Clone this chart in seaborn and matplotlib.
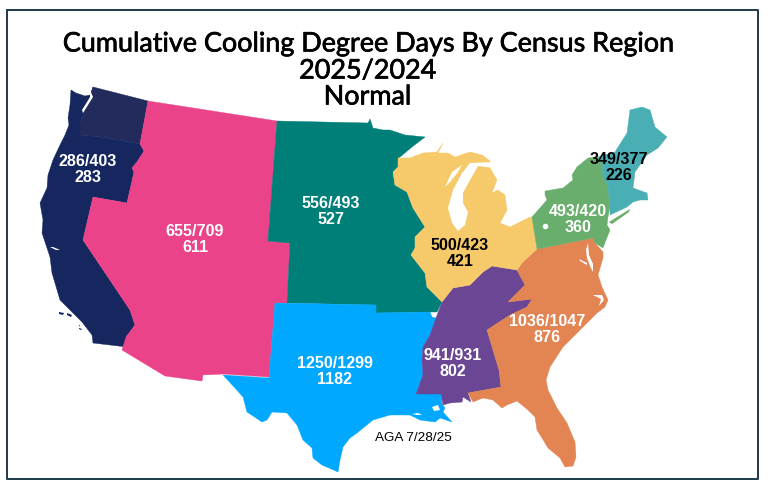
import matplotlib
matplotlib.use("Agg")
import matplotlib.pyplot as plt
import matplotlib.patheffects as pe
import seaborn as sns

sns.set_theme(style="white")

TITLE_LINES = ["Cumulative Cooling Degree Days By Census Region", "2025/2024", "Normal"]
TITLE_Y = [44, 71, 97]

regions = ["Inland Washington", "Pacific", "Mountain", "West North Central", "West South Central",
           "East South Central", "South Atlantic", "East North Central", "Mid Atlantic", "New England"]
colors = ["#222b5c", "#16265f", "#ea4389", "#007f79", "#00a8ff",
          "#6b4694", "#e28553", "#f6c96a", "#69ae6d", "#4aafb5"]

# region outlines (image pixels)
washington = [(93,87),(148,101),(140,144),(117,140),(102,137),(80,135),(80,122),(84,113),(90,100)]
pacific = [(71,90),(76,93),(85,96),(90,95),(93,87),(90,100),(84,113),(80,122),(80,135),(102,137),
           (117,140),(140,144),(144,151),(137,162),(132,168),(134,172),(127,203),(93,197),(83,240),(130,310),
           (135,325),(126,337),(127,347),(93,343),(92,335),(82,322),(73,313),(60,300),(52,273),(50,257),
           (42,233),(43,220),(40,203),(47,188),(48,175),(53,160),(60,145),(65,135),(69,125),(68,118),
           (70,105)]
mountain = [(148,101),(277,121),(268,241),(290,243),(287,303),(275,303),(269,377),(223,374),(203,375),(202,381),
            (165,376),(122,350),(126,337),(135,325),(130,310),(83,240),(93,197),(127,203),(134,172),(132,168),
            (137,162),(144,151),(140,144)]
west_north_central = [(277,121),(368,123),(370,119),(373,128),(383,130),(390,130),(405,135),(425,137),(412,147),(400,157),
                      (398,158),(398,167),(393,172),(395,185),(407,192),(413,208),(425,227),(415,237),(415,248),(411,255),
                      (425,273),(427,287),(442,302),(437,312),(430,312),(376,313),(376,305),(287,303),(290,243),(268,241)]
west_south_central = [(275,303),(376,305),(376,313),(430,312),(432,317),(436,318),(430,335),(423,347),(422,360),(423,375),
                      (416,394),(441,394),(442,404),(445,408),(443,412),(452,422),(440,418),(435,422),(420,420),(410,415),
                      (390,415),(373,420),(357,433),(350,438),(343,447),(340,460),(338,472),(322,465),(313,458),(312,448),
                      (303,440),(297,425),(287,413),(272,412),(267,420),(262,422),(247,412),(243,397),(235,388),(223,375),
                      (269,378)]
east_south_central = [(492,266),(517,270),(525,285),(508,302),(532,299),(527,307),(510,315),(487,330),(499,370),(501,387),
                      (468,393),(471,402),(463,397),(462,402),(450,403),(443,405),(441,394),(416,394),(423,375),(422,360),
                      (423,347),(430,335),(436,318),(442,302),(453,288),(470,285),(483,272)]
south_atlantic = [(537,249),(593,238),(595,243),(603,252),(603,258),(598,275),(602,287),(608,300),(605,307),(597,313),
                  (587,323),(577,333),(563,347),(550,367),(546,380),(548,390),(557,408),(567,423),(575,442),(576,457),
                  (573,466),(565,467),(560,458),(548,448),(542,438),(537,430),(535,417),(528,410),(517,401),(507,405),
                  (502,408),(493,400),(483,398),(473,402),(468,393),(501,387),(499,370),(487,330),(510,315),(527,307),
                  (532,299),(508,302),(525,285),(517,270),(522,263)]
east_north_central = [(398,158),(410,158),(423,153),(437,152),(443,143),(438,153),(448,153),(455,157),(470,152),(482,155),
                      (490,161),(492,165),(490,168),(497,180),(492,193),(498,190),(505,195),(507,210),(500,223),(510,227),
                      (530,217),(532,217),(537,249),(522,263),(517,270),(492,266),(483,272),(470,285),(453,288),(442,302),
                      (427,287),(425,273),(411,255),(415,248),(415,237),(425,227),(413,208),(407,192),(395,185),(393,172),
                      (398,167)]
mid_atlantic = [(532,217),(547,200),(545,195),(545,191),(563,188),(573,180),(572,175),(577,167),(588,158),(598,157),
                (602,163),(603,175),(608,187),(610,207),(608,217),(607,225),(610,230),(606,240),(603,248),(595,243),
                (593,238),(537,249)]
new_england = [(598,157),(615,152),(627,133),(630,110),(642,107),(650,110),(655,127),(667,137),(658,148),(647,155),
               (635,172),(633,188),(647,193),(648,200),(640,200),(633,202),(627,207),(610,215),(610,207),(608,187),
               (603,175),(602,163)]
outlines = [washington, pacific, mountain, west_north_central, west_south_central,
            east_south_central, south_atlantic, east_north_central, mid_atlantic, new_england]

# small extra shapes
long_island = [(609,222),(630,209),(629,212),(612,224)]
channel_islands = [[(59,312),(64,313),(63,315),(59,314)], [(67,313),(72,315),(71,317),(67,315)],
                   [(79,328),(82,329),(81,330),(79,329)], [(79,325),(80,325),(80,327)]]
lake_michigan = [(458,231),(452,223),(448,208),(453,190),(462,173),(470,163),(492,162),(494,168),(478,166),(470,180),
                 (463,193),(463,203),(468,212),(465,225)]
white_bits = [[(90,90),(93,97),(88,105),(83,113),(82,110),(87,102),(90,97)],   # Puget Sound
              [(445,187),(452,172),(462,165),(458,172),(450,182)],             # Green Bay
              [(588,243),(589,255),(593,264),(593,272),(590,266),(587,258),(586,250)],  # Chesapeake
              [(579,259),(587,263),(587,265),(580,261)],
              [(593,295),(602,295),(604,300),(599,306),(601,299)],             # Pamlico
              [(50,247),(56,250),(60,250),(53,247)],
              [(110,333),(112,337),(113,339),(111,335)],
              [(432,407),(438,405),(440,410),(434,411)],                       # Pontchartrain
              [(412,414),(418,413),(422,415),(417,415)]]

label_x = [88, 195, 331, 335, 453, 547, 460, 578, 619]
label_top = ["286/403", "655/709", "556/493", "1250/1299", "941/931", "1036/1047", "500/423", "493/420", "349/377"]
label_bottom = ["283", "611", "527", "1182", "802", "876", "421", "360", "226"]
label_y = [162, 232, 203, 363, 355, 322, 245, 211, 159]
label_color = ["white", "white", "white", "white", "white", "white", "black", "white", "black"]

palette = sns.color_palette(colors)

fig = plt.figure(figsize=(7.72, 4.92), dpi=100)
ax = fig.add_axes([0, 0, 1, 1])
ax.set_xlim(0, 772)
ax.set_ylim(492, 0)
ax.axis("off")

for name, outline, col in zip(regions, outlines, palette):
    xs, ys = zip(*outline)
    ax.fill(xs, ys, color=col, lw=0.3, label=name)

xs, ys = zip(*long_island)
ax.fill(xs, ys, color=palette[8], lw=0)
for isl in channel_islands:
    xs, ys = zip(*isl)
    ax.fill(xs, ys, color=palette[1], lw=0)
xs, ys = zip(*lake_michigan)
ax.fill(xs, ys, color="white", lw=0)
for bit in white_bits:
    xs, ys = zip(*bit)
    ax.fill(xs, ys, color="white", lw=0)
ax.plot([545], [226], "o", color="white", ms=3)

for x, top, bottom, y, col in zip(label_x, label_top, label_bottom, label_y, label_color):
    ax.text(x, y, top, color=col, ha="center", va="center", fontsize=11.6, fontweight="bold", family="Liberation Sans")
    ax.text(x, y + 16, bottom, color=col, ha="center", va="center", fontsize=11.6, fontweight="bold", family="Liberation Sans")

ax.text(413, 438, "AGA 7/28/25", color="black", ha="center", va="center", fontsize=9.7, family="Liberation Sans")

for line, y in zip(TITLE_LINES, TITLE_Y):
    t = ax.text(367.5, y, line, color="black", ha="center", va="center", fontsize=19.4, family="Lato")
    t.set_path_effects([pe.withStroke(linewidth=0.5, foreground="black")])

# frame around the picture
ax.plot([7, 758, 758, 7, 7], [10, 10, 479, 479, 10], color="#1d3a4a", lw=1.4)

fig.savefig("out.png", dpi=100)
